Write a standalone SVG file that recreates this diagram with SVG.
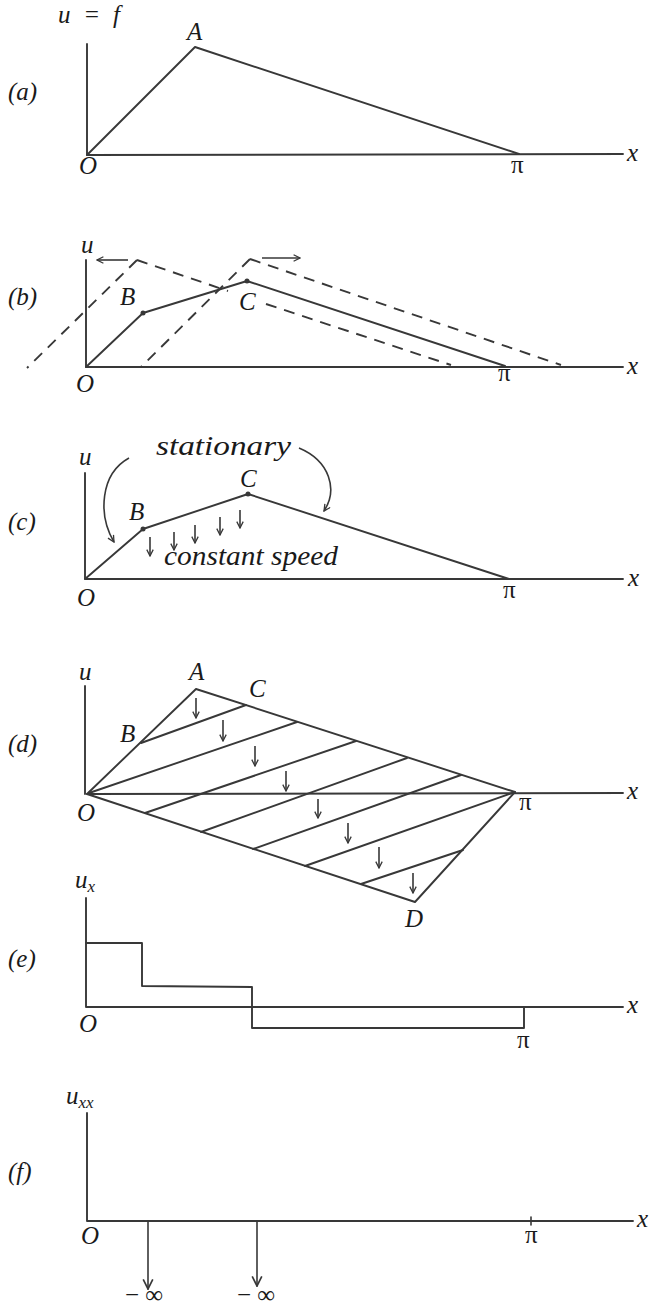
<svg xmlns="http://www.w3.org/2000/svg" width="651" height="1310" viewBox="0 0 651 1310">
<defs>
<style>
.ln{stroke:#383838;stroke-width:1.9;fill:none;stroke-linecap:round;stroke-linejoin:round}
.th{stroke:#383838;stroke-width:1.6;fill:none;stroke-linecap:round}
.ds{stroke:#383838;stroke-width:1.9;fill:none;stroke-dasharray:11 8}
.t{font-family:"Liberation Serif","DejaVu Serif",serif;font-style:italic;font-size:25px;fill:#1a1a1a}
.w{font-family:"Liberation Serif","DejaVu Serif",serif;font-style:italic;font-size:27px;fill:#1a1a1a}
.r{font-family:"Liberation Serif","DejaVu Serif",serif;font-size:25px;fill:#1a1a1a}
.s{font-family:"Liberation Serif","DejaVu Serif",serif;font-style:italic;font-size:17px;fill:#1a1a1a}
.dot{fill:#383838}
.arr{stroke:#383838;stroke-width:1.6;fill:none;marker-end:url(#ah)}
</style>
<marker id="ah" viewBox="0 0 10 10" refX="9" refY="5" markerWidth="8" markerHeight="8" orient="auto" markerUnits="userSpaceOnUse">
<path d="M1,1 L9,5 L1,9" fill="none" stroke="#383838" stroke-width="1.6"/>
</marker>
<marker id="ahL" viewBox="0 0 10 10" refX="9" refY="5" markerWidth="12" markerHeight="12" orient="auto" markerUnits="userSpaceOnUse">
<path d="M1,1 L9,5 L1,9" fill="none" stroke="#383838" stroke-width="1.4"/>
</marker>
</defs>
<rect width="651" height="1310" fill="#fff"/>

<!-- Panel (a) -->
<g id="panel-a">
<g id="a-axes"><path class="ln" d="M87,44 L87,155 L623,154"/></g>
<g id="a-curve"><path class="ln" d="M87,155 L195,47 L519,154"/></g>
<g id="a-labels">
<text class="t" x="58" y="23" textLength="62">u = f</text>
<text class="t" x="187" y="40">A</text>
<text class="t" x="8" y="100">(a)</text>
<text class="t" x="79" y="174">O</text>
<text class="r" x="511" y="173">π</text>
<text class="t" x="627" y="161">x</text>
</g>
</g>

<!-- Panel (b) -->
<g id="panel-b">
<g id="b-axes"><path class="ln" d="M86,260 L86,367 L623,367"/></g>
<g id="b-curve">
<path class="ln" d="M86,367 L143,313 L247,281 L505,366"/>
<circle class="dot" cx="143" cy="313" r="2.5"/>
<circle class="dot" cx="247" cy="281" r="2.5"/>
</g>
<g id="b-dashed">
<path class="ds" d="M137,260 L27,368"/>
<path class="ds" d="M137,260 L228,291"/>
<path class="ds" d="M266,304 L451,365"/>
<path class="ds" d="M250,259 L141,367"/>
<path class="ds" d="M250,259 L561,365"/>
</g>
<g id="b-arrows">
<path class="arr" d="M128,260 L97,260"/>
<path class="arr" d="M262,258 L300,258"/>
</g>
<g id="b-labels">
<text class="t" x="81" y="253">u</text>
<text class="t" x="120" y="305">B</text>
<text class="t" x="239" y="310">C</text>
<text class="t" x="8" y="305">(b)</text>
<text class="t" x="76" y="392">O</text>
<text class="r" x="498" y="381">π</text>
<text class="t" x="627" y="374">x</text>
</g>
</g>

<!-- Panel (c) -->
<g id="panel-c">
<g id="c-axes"><path class="ln" d="M85,473 L85,579 L623,579"/></g>
<g id="c-curve">
<path class="ln" d="M85,579 L143,529 L248,494 L509,579"/>
<circle class="dot" cx="143" cy="529" r="2.5"/>
<circle class="dot" cx="248" cy="494" r="2.5"/>
</g>
<g id="c-arrows">
<path class="arr" d="M129,458 C100,474 98,515 114,542"/>
<path class="arr" d="M299,448 C330,461 338,490 324,511"/>
<path class="arr" d="M150,537 L150,556"/>
<path class="arr" d="M174,532 L174,550"/>
<path class="arr" d="M195,525 L195,543"/>
<path class="arr" d="M220,517 L220,535"/>
<path class="arr" d="M240,510 L240,528"/>
</g>
<g id="c-labels">
<text class="w" x="156" y="455" textLength="135" lengthAdjust="spacingAndGlyphs">stationary</text>
<text class="w" x="164" y="565" textLength="174" lengthAdjust="spacingAndGlyphs">constant speed</text>
<text class="t" x="79" y="465">u</text>
<text class="t" x="129" y="520">B</text>
<text class="t" x="240" y="487">C</text>
<text class="t" x="8" y="530">(c)</text>
<text class="t" x="77" y="606">O</text>
<text class="r" x="503" y="598">π</text>
<text class="t" x="628" y="586">x</text>
</g>
</g>

<!-- Panel (d) -->
<g id="panel-d">
<g id="d-axes">
<path class="ln" d="M85,686 L85,794"/>
<path class="ln" d="M87,794 L623,793"/>
</g>
<g id="d-outline"><path class="ln" d="M87,794 L196,689 L515,792 L415,902 Z"/></g>
<g id="d-hatch">
<path class="ln" d="M141,743 L246,705"/>
<path class="ln" d="M89,793 L297,722"/>
<path class="ln" d="M145,813 L356,741"/>
<path class="ln" d="M201,832 L407,758"/>
<path class="ln" d="M253,849 L461,775"/>
<path class="ln" d="M305,866 L515,792"/>
<path class="ln" d="M361,884 L463,850"/>
</g>
<g id="d-arrows">
<path class="arr" d="M196,698 L196,718"/>
<path class="arr" d="M223,720 L223,741"/>
<path class="arr" d="M255,746 L255,766"/>
<path class="arr" d="M286,771 L286,791"/>
<path class="arr" d="M318,799 L318,818"/>
<path class="arr" d="M348,823 L348,843"/>
<path class="arr" d="M379,847 L379,868"/>
<path class="arr" d="M413,873 L413,893"/>
</g>
<g id="d-labels">
<text class="t" x="79" y="680">u</text>
<text class="t" x="189" y="680">A</text>
<text class="t" x="249" y="697">C</text>
<text class="t" x="120" y="742">B</text>
<text class="t" x="8" y="752">(d)</text>
<text class="t" x="77" y="821">O</text>
<text class="r" x="519" y="810">π</text>
<text class="t" x="627" y="799">x</text>
<text class="t" x="405" y="927">D</text>
</g>
</g>

<!-- Panel (e) -->
<g id="panel-e">
<g id="e-axes"><path class="ln" d="M86,898 L86,1007 L623,1007"/></g>
<g id="e-step"><path class="ln" d="M86,943 L142,943 L142,986 L252,987 L252,1028 L524,1028 L524,1007"/></g>
<g id="e-labels">
<text class="t" x="75" y="888">u<tspan class="s" dy="4">x</tspan></text>
<text class="t" x="8" y="967">(e)</text>
<text class="t" x="79" y="1032">O</text>
<text class="r" x="517" y="1048">π</text>
<text class="t" x="627" y="1013">x</text>
</g>
</g>

<!-- Panel (f) -->
<g id="panel-f">
<g id="f-axes">
<path class="ln" d="M87,1113 L87,1221 L633,1221"/>
<path class="th" d="M531,1217 L531,1225"/>
</g>
<g id="f-arrows">
<path class="th" style="marker-end:url(#ahL)" d="M148,1221 L148,1289"/>
<path class="th" style="marker-end:url(#ahL)" d="M257,1221 L257,1286"/>
</g>
<g id="f-labels">
<text class="t" x="66" y="1104">u<tspan class="s" dy="4">xx</tspan></text>
<text class="t" x="8" y="1180">(f)</text>
<text class="t" x="81" y="1244">O</text>
<text class="r" x="525" y="1243">π</text>
<text class="t" x="637" y="1227">x</text>
<text class="r" x="125" y="1303" font-size="23">− ∞</text>
<text class="r" x="237" y="1303" font-size="23">− ∞</text>
</g>
</g>
</svg>
